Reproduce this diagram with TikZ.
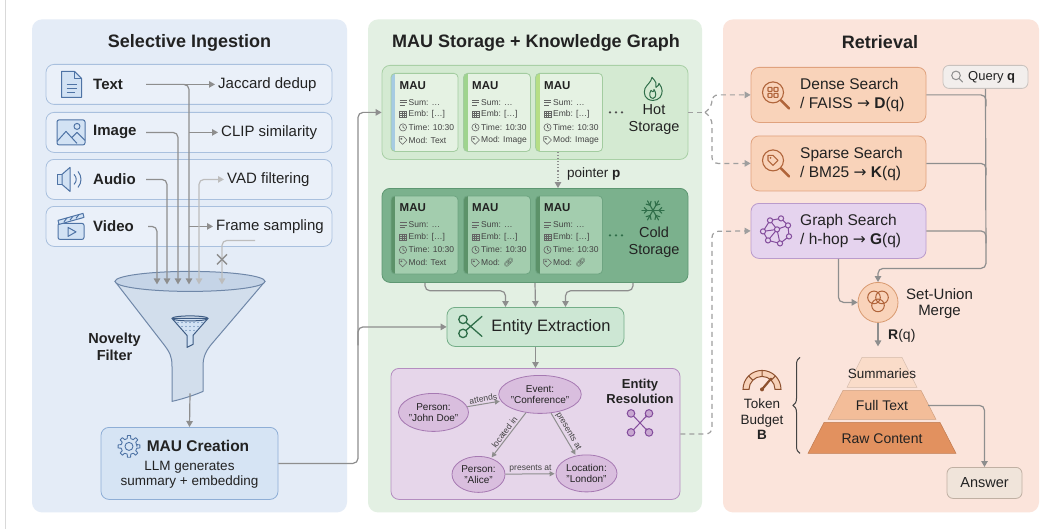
\documentclass[tikz,border=0pt]{standalone}
\usepackage{fontspec}
\setmainfont{Liberation Sans}
\newfontfamily\dejavu{DejaVu Sans}
\newfontfamily\emoj{Noto Emoji}
\usetikzlibrary{arrows.meta,shapes.geometric,calc,decorations.pathreplacing}
\definecolor{txt}{HTML}{222222}
\definecolor{bluepanel}{HTML}{E4ECF7}
\definecolor{rowfill}{HTML}{EAF0F9}
\definecolor{rowline}{HTML}{A9C0DE}
\definecolor{iconblue}{HTML}{4E73A5}
\definecolor{iconbluefill}{HTML}{D2E2F4}
\definecolor{lgray}{HTML}{8E8E8E}
\definecolor{llgray}{HTML}{BDBDBD}
\definecolor{funfill}{HTML}{D2DEEC}
\definecolor{funtop}{HTML}{C5D4E7}
\definecolor{funline}{HTML}{6F87A8}
\definecolor{maufill}{HTML}{D6E4F4}
\definecolor{mauline}{HTML}{8EAED6}
\definecolor{greenpanel}{HTML}{E3F0E3}
\definecolor{hotfill}{HTML}{D4EAD2}
\definecolor{hotline}{HTML}{A9D0A6}
\definecolor{hotcard}{HTML}{E5F2E3}
\definecolor{hotcardline}{HTML}{A3CCA0}
\definecolor{stripeblue}{HTML}{A6CBE2}
\definecolor{stripegreen}{HTML}{9FD48E}
\definecolor{stripelime}{HTML}{B6DE86}
\definecolor{coldfill}{HTML}{7BB18D}
\definecolor{coldline}{HTML}{5E9772}
\definecolor{coldcard}{HTML}{A3CDAE}
\definecolor{coldcardline}{HTML}{6EA481}
\definecolor{coldstripe}{HTML}{5C9269}
\definecolor{greenicon}{HTML}{2F6E49}
\definecolor{eefill}{HTML}{CDE7D4}
\definecolor{eeline}{HTML}{74AE88}
\definecolor{erfill}{HTML}{E6D6EA}
\definecolor{erline}{HTML}{B48DC0}
\definecolor{elfill}{HTML}{D9BEDE}
\definecolor{elline}{HTML}{A679B2}
\definecolor{purpleicon}{HTML}{834C9C}
\definecolor{salmonpanel}{HTML}{FBE4DB}
\definecolor{orfill}{HTML}{F9D3BA}
\definecolor{orline}{HTML}{E0A27E}
\definecolor{oricon}{HTML}{B0643A}
\definecolor{gsfill}{HTML}{E5D3EE}
\definecolor{gsline}{HTML}{BA9BCC}
\definecolor{qfill}{HTML}{F2EEEC}
\definecolor{qline}{HTML}{C9C2BE}
\definecolor{pyra}{HTML}{FADCC9}
\definecolor{pyrb}{HTML}{F3BD99}
\definecolor{pyrc}{HTML}{E2915F}
\definecolor{pyrline}{HTML}{D99A70}
\definecolor{ansfill}{HTML}{F0E4DA}
\definecolor{ansline}{HTML}{C0B0A3}

\tikzset{
 ptitle/.style={font=\fontsize{18}{20}\selectfont\bfseries, text=txt, inner sep=0pt},
 rowbox/.style={draw=rowline, fill=rowfill, rounded corners=8pt, minimum width=286pt, minimum height=40pt, line width=0.8pt},
 rowlab/.style={font=\fontsize{15}{17}\selectfont\bfseries, text=txt, inner sep=0pt, anchor=west},
 filt/.style={font=\fontsize{15}{17}\selectfont, text=txt, inner sep=3pt, anchor=west},
 tip/.style={-{Triangle[length=6pt,width=6.5pt]}},
 conn/.style={draw=lgray, line width=1.2pt, rounded corners=5pt, tip},
 connlight/.style={draw=llgray, line width=1.2pt, rounded corners=5pt, -{Triangle[length=6pt,width=6.5pt]}},
 plainconn/.style={draw=lgray, line width=1.2pt, rounded corners=5pt},
 dconn/.style={draw=lgray!85, line width=1.2pt, rounded corners=6pt, dash pattern=on 5pt off 4pt},
 gconn/.style={draw=lgray, line width=1pt, -{Triangle[length=5pt,width=5pt]}, shorten >=1pt},
 cardbox/.style={rounded corners=4pt, minimum width=67pt, minimum height=78pt, inner sep=0pt, line width=0.8pt},
 mautitle/.style={font=\fontsize{11.5}{13}\selectfont\bfseries, text=txt, inner sep=0pt, anchor=west},
 cardtxt/.style={font=\fontsize{8.5}{10}\selectfont, text=txt!85, inner sep=0pt, anchor=west},
 cic/.style={draw=txt!70, line width=0.6pt},
 sbox/.style={rounded corners=8pt, minimum width=306pt, minimum height=94pt, line width=0.8pt},
 ellnode/.style={ellipse, draw=elline, fill=elfill, line width=0.8pt, inner sep=0pt, font=\fontsize{10}{11.5}\selectfont, align=center, text=txt},
 elab/.style={font=\fontsize{8.5}{9}\selectfont, text=txt!85, inner sep=1.5pt},
 rbox/.style={rounded corners=8pt, minimum width=175pt, minimum height=55pt, line width=0.8pt},
 rtxt/.style={font=\fontsize{15.5}{19}\selectfont, text=txt, inner sep=0pt, anchor=west, align=left},
 mid/.style={font=\fontsize{13.5}{15.5}\selectfont, text=txt, inner sep=0pt, align=center},
}

\newcommand{\icLines}[2]{\begin{scope}[shift={(#1,#2)}]\draw[cic] (-3.5,-2.5)--(3.5,-2.5) (-3.5,0)--(3.5,0) (-3.5,2.5)--(1.5,2.5);\end{scope}}
\newcommand{\icGrid}[2]{\begin{scope}[shift={(#1,#2)}]\draw[cic] (-3.5,-3) rectangle (3.5,3) (-3.5,-1)--(3.5,-1) (-3.5,1)--(3.5,1) (-1.2,-3)--(-1.2,3) (1.2,-3)--(1.2,3);\end{scope}}
\newcommand{\icClock}[2]{\begin{scope}[shift={(#1,#2)}]\draw[cic] (0,0) circle (3.6) (0,-2.3)--(0,0)--(1.8,1);\end{scope}}
\newcommand{\icTag}[2]{\begin{scope}[shift={(#1,#2)}]\draw[cic, line join=round] (-3.8,-3.8)--(0.6,-3.8)--(4,-0.4)--(-0.4,4)--(-3.8,0.6)--cycle (-1.6,-1.6) circle (0.7);\end{scope}}

\newcommand{\maucard}[7]{%
 \begin{scope}
 \clip[rounded corners=4pt] (#2-33.5,#3-39) rectangle (#2+33.5,#3+39);
 \fill[#4] (#2-33.5,#3-39) rectangle (#2+33.5,#3+39);
 \fill[#5] (#2-33.5,#3-39) rectangle (#2-29.5,#3+39);
 \end{scope}
 \node[cardbox, draw=#6] (#1) at (#2,#3) {};
 \node[mautitle] at (#2-25,#3-27) {MAU};
 \icLines{#2-21.5}{#3-10}
 \node[cardtxt] at (#2-16,#3-10) {Sum: \ldots};
 \icGrid{#2-21.5}{#3+2}
 \node[cardtxt] at (#2-16,#3+2) {Emb: [\ldots]};
 \icClock{#2-21.5}{#3+15}
 \node[cardtxt] at (#2-16,#3+15) {Time: 10:30};
 \icTag{#2-21.5}{#3+28}
 \node[cardtxt] at (#2-16,#3+28) {#7};
}

\begin{document}
\begin{tikzpicture}[x=1pt,y=-1pt]
\path[fill=white] (0,0) rectangle (1052,529);
\draw[black!15, line width=0.8pt] (5,0) -- (5,529);

% ---------- panels
\fill[bluepanel, rounded corners=10pt] (32,19) rectangle (347,512);
\fill[greenpanel, rounded corners=10pt] (368,19) rectangle (702,512);
\fill[salmonpanel, rounded corners=10pt] (723,19) rectangle (1039,512);
\node[ptitle] (t1) at (189.5,42) {Selective Ingestion};
\node[ptitle] (t2) at (536,42) {MAU Storage + Knowledge Graph};
\node[ptitle] (t3) at (880,42) {Retrieval};

% ---------- left: rows
\node[rowbox] (rtext) at (189,84) {};
\node[rowbox] (rimage) at (189,132) {};
\node[rowbox] (raudio) at (189,179) {};
\node[rowbox] (rvideo) at (189,226) {};
\node[rowlab] (ltext) at (93,84) {Text};
\node[rowlab] (limage) at (93,132) {Image};
\node[rowlab] (laudio) at (93,179) {Audio};
\node[rowlab] (lvideo) at (93,226) {Video};
\node[filt] (fjac) at (215,84) {Jaccard dedup};
\node[filt] (fclip) at (218,132) {CLIP similarity};
\node[filt] (fvad) at (224,179) {VAD filtering};
\node[filt] (fframe) at (213,226) {Frame sampling};

% row icons
\begin{scope}[shift={(71.5,84)}, draw=iconblue, line width=1pt, line join=round]
 \filldraw[fill=iconbluefill] (-10,-13)--(3,-13)--(10,-6)--(10,13)--(-10,13)--cycle;
 \draw (3,-13)--(3,-6)--(10,-6);
 \draw (-5,0)--(5,0) (-5,4)--(5,4) (-5,8)--(3,8);
\end{scope}
\begin{scope}[shift={(71,132)}, draw=iconblue, line width=1pt, line join=round]
 \filldraw[fill=iconbluefill, rounded corners=2pt] (-14,-12.5) rectangle (14,12.5);
 \draw (-14,9)--(-5,-1)--(6,11) (1,5)--(6,0)--(14,8);
 \draw (6,-6) circle (3);
\end{scope}
\begin{scope}[shift={(70,179)}, draw=iconblue, line width=1pt, line join=round]
 \filldraw[fill=iconbluefill] (-13,-5) rectangle (-8,5);
 \filldraw[fill=iconbluefill] (-8,-5)--(0,-12)--(0,12)--(-8,5)--cycle;
 \draw (4,-5) .. controls (7,-2) and (7,2) .. (4,5);
 \draw (8,-8) .. controls (12,-3) and (12,3) .. (8,8);
\end{scope}
\begin{scope}[shift={(71,226)}, draw=iconblue, line width=1pt, line join=round]
 \filldraw[fill=iconbluefill, rounded corners=2pt] (-13,-3) rectangle (13,13);
 \filldraw[fill=iconbluefill] (-13,-6)--(12,-13)--(13,-9)--(-12,-2)--cycle;
 \draw (-7,-4.5)--(-4,-8.5) (-1,-6.2)--(2,-10.2) (5,-8)--(8,-12);
 \draw (-3,1)--(-3,10)--(5,5.5)--cycle;
\end{scope}

% ---------- funnel
\filldraw[fill=funfill, draw=funline, line width=1pt, line join=round]
 (115,281) -- (163,343) .. controls (170,352) and (172,356) .. (172,366) -- (172,401)
 .. controls (185,398) and (196,394) .. (203,391) -- (203,366)
 .. controls (203,356) and (206,350) .. (213,342) -- (265,281) -- cycle;
\filldraw[fill=funtop, draw=funline, line width=1pt] (190,281) ellipse [x radius=75, y radius=10];
\begin{scope}[shift={(190,331)}, draw=iconblue!80!black, line width=1pt, line join=round]
 \filldraw[fill=iconbluefill] (-18,-13) -- (18,-13) -- (3,4) -- (3,13) -- (-3,16) -- (-3,4) -- cycle;
 \draw (0,-13) ellipse [x radius=18, y radius=2.5];
 \foreach \i in {-12,-8,...,12} \fill[iconblue] (\i,-9) circle (0.6);
 \foreach \i in {-8,-4,...,8} \fill[iconblue] (\i,-5) circle (0.6);
 \foreach \i in {-4,0,4} \fill[iconblue] (\i,-1) circle (0.6);
\end{scope}
\node[font=\fontsize{14.5}{17}\selectfont\bfseries, text=txt, align=center, inner sep=0pt] (nov) at (114.5,346) {Novelty\\Filter};

% ---------- ingestion connectors
\coordinate (st1) at (146,84);
\coordinate (st2) at (146,132);
\coordinate (st3) at (146,179);
\coordinate (st4) at (148,226);
\draw[conn] (st1) -- (fjac.west);
\draw[conn] (st1) -| (189,284);
\draw[conn] (st2) -| (178,284);
\draw[conn] (st3) -| (167,284);
\draw[conn] (st4) -| (157,284);
\draw[conn] (189,132) -- (fclip.west);
\draw[conn] (189,226) -- (fframe.west);
\draw[connlight, {Triangle[length=6pt,width=6.5pt]}-{Triangle[length=6pt,width=6.5pt]}] (fvad.west) -| (199,284);
\coordinate (rej) at (255,240);
\draw[connlight] (rej) -| (222,284);
\draw[lgray, line width=1.4pt] (217,254)--(227,264) (217,264)--(227,254);

% ---------- MAU creation
\node[draw=mauline, fill=maufill, rounded corners=8pt, minimum width=177pt, minimum height=72pt, line width=0.8pt] (mau) at (189.5,463) {};
\draw[conn] (190,393) -- (mau.north);
\begin{scope}[shift={(129,446)}, draw=iconblue, line width=0.9pt, line join=round]
 \draw (0:8) \foreach \a in {0,45,...,315} { -- (\a-13:8) -- (\a-8:11) -- (\a+8:11) -- (\a+13:8) } -- cycle;
 \draw (0,0) circle (4);
\end{scope}
\node[font=\fontsize{15.5}{18}\selectfont\bfseries, text=txt, inner sep=0pt] (mautit) at (198,446) {MAU Creation};
\node[mid] (mausub) at (189.5,474.5) {LLM generates\\summary + embedding};

% ---------- middle: hot storage
\node[sbox, draw=hotline, fill=hotfill] (hot) at (535,112) {};
\maucard{hc1}{424.5}{112}{hotcard}{stripeblue}{hotcardline}{Mod: Text}
\maucard{hc2}{497}{112}{hotcard}{stripegreen}{hotcardline}{Mod: Image}
\maucard{hc3}{569}{112}{hotcard}{stripelime}{hotcardline}{Mod: Image}
\fill[txt!80] (610,112) circle (1.3) (616,112) circle (1.3) (622,112) circle (1.3);
\node[font=\fontsize{14.5}{16.5}\selectfont, text=txt, align=center, inner sep=0pt] (hotlab) at (654,119) {Hot\\Storage};
\begin{scope}[shift={(653,89)}, draw=greenicon, line width=1pt, line join=round]
 \draw (0,11) .. controls (-8,11) and (-10,4) .. (-8,-1) .. controls (-6,-5) and (-2,-7) .. (-1,-12)
  .. controls (3,-8) and (4,-5) .. (3,-2) .. controls (5,-3) and (6,-5) .. (6,-6)
  .. controls (10,-1) and (10,4) .. (7,8) .. controls (5,10) and (3,11) .. (0,11) -- cycle;
 \draw (0,9) .. controls (-4,9) and (-4,4) .. (-2,1) .. controls (-1,3) and (1,3) .. (1,0) .. controls (3,3) and (4,8) .. (0,9);
\end{scope}

% ---------- cold storage
\node[sbox, draw=coldline, fill=coldfill] (cold) at (535,235) {};
\maucard{cc1}{424.5}{234.5}{coldcard}{coldstripe}{coldcardline}{Mod: Text}
\maucard{cc2}{497}{234.5}{coldcard}{coldstripe}{coldcardline}{Mod: {\emoj 🔗}}
\maucard{cc3}{569}{234.5}{coldcard}{coldstripe}{coldcardline}{Mod: {\emoj 🔗}}
\fill[greenicon] (610,235) circle (1.3) (616,235) circle (1.3) (622,235) circle (1.3);
\node[font=\fontsize{14.5}{16.5}\selectfont, text=txt, align=center, inner sep=0pt] (coldlab) at (654,242) {Cold\\Storage};
\begin{scope}[shift={(653,210)}, draw=greenicon, line width=1.1pt, line cap=round]
 \foreach \a in {0,60,...,300} {
  \draw (0,0) -- (\a:11);
  \draw (\a:6) -- ($(\a:6)+(\a+45:4)$);
  \draw (\a:6) -- ($(\a:6)+(\a-45:4)$);
 }
\end{scope}

% pointer p
\draw[lgray, line width=1.1pt, dotted, -{Triangle[length=6pt,width=6.5pt]}] ([xshift=-11pt]hc3.south) -- ([xshift=23pt]cold.north);
\node[font=\fontsize{13.5}{15}\selectfont, text=txt, inner sep=0pt, anchor=west] (ptr) at (567,174) {pointer \textbf{p}};

% ---------- entity extraction
\node[draw=eeline, fill=eefill, rounded corners=8pt, minimum width=177pt, minimum height=39pt, line width=0.8pt] (ee) at (535.5,326.5) {};
\node[font=\fontsize{16.5}{18}\selectfont, text=txt, inner sep=0pt] (eelab) at (551,326.5) {Entity Extraction};
\begin{scope}[shift={(470,326)}, draw=greenicon, line width=1.3pt, line cap=round]
 \draw (-7,-7) circle (4.2) (-7,7) circle (4.2);
 \draw (-4,-4) -- (12,10) (-4,4) -- (12,-10);
\end{scope}
\draw[conn] ([xshift=-110pt]cold.south) -- ++(0,8) -| ([xshift=-30pt]ee.north);
\draw[conn] (cold.south) -- (ee.north);
\draw[conn] ([xshift=98pt]cold.south) -- ++(0,8) -| ([xshift=30pt]ee.north);

% MAU creation connectors
\draw[conn] (mau.east) -| (358,112) -- (hot.west);
\draw[conn] (358,345) |- (ee.west);

% ---------- entity resolution
\node[draw=erline, fill=erfill, rounded corners=8pt, minimum width=289pt, minimum height=131pt, line width=0.8pt] (er) at (535.5,433.5) {};
\draw[conn] (ee.south) -- (er.north);
\node[ellnode, minimum width=63pt, minimum height=38pt] (jd) at (433.5,412) {Person:\\"John Doe"};
\node[ellnode, minimum width=74pt, minimum height=38pt] (conf) at (540,394) {Event:\\"Conference"};
\node[ellnode, minimum width=53pt, minimum height=36pt] (alice) at (478.5,474) {Person:\\"Alice"};
\node[ellnode, minimum width=61pt, minimum height=37pt] (london) at (586.5,473) {Location:\\"London"};
\draw[gconn] (jd) -- (conf) node[midway, sloped, above, elab] {attends};
\draw[gconn] (conf) -- (alice) node[midway, sloped, above, elab] {located in};
\draw[gconn] (conf) -- (london) node[midway, sloped, above, elab] {presents at};
\draw[gconn] (alice) -- (london) node[midway, above, elab] {presents at};
\node[font=\fontsize{13}{15}\selectfont\bfseries, text=txt, align=center, inner sep=0pt] (erlab) at (640,390.5) {Entity\\Resolution};
\begin{scope}[draw=purpleicon, line width=1pt]
 \draw[-{Triangle[length=3pt,width=3pt]}] (632,414) -- (648,431);
 \draw[-{Triangle[length=3pt,width=3pt]}] (632,431) -- (648,414);
 \filldraw[fill=elfill!80!purpleicon] (631,413) circle (3.8) (649,413) circle (3.8) (631,432) circle (3.8) (649,432) circle (3.8);
\end{scope}

% ---------- right: search boxes
\node[rbox, draw=orline, fill=orfill] (ds) at (838.5,94.5) {};
\node[rbox, draw=orline, fill=orfill] (ss) at (838.5,163) {};
\node[rbox, draw=gsline, fill=gsfill] (gs) at (838.5,230.5) {};
\node[rtxt] (dstxt) at (800,95) {Dense Search\\/ FAISS {\dejavu →} \textbf{D}(q)};
\node[rtxt] (sstxt) at (800,163.5) {Sparse Search\\/ BM25 {\dejavu →} \textbf{K}(q)};
\node[rtxt] (gstxt) at (800,231) {Graph Search\\/ h-hop {\dejavu →} \textbf{G}(q)};
% dense icon
\begin{scope}[shift={(773,92)}, draw=oricon, line width=1.1pt]
 \draw (0,0) circle (10.5);
 \draw[line width=2.6pt, line cap=round] (8,8) -- (16,16);
 \draw[rounded corners=0.6pt] (-5,-5) rectangle (-1,-1) (1,-5) rectangle (5,-1) (-5,1) rectangle (-1,5) (1,1) rectangle (5,5);
\end{scope}
% sparse icon
\begin{scope}[shift={(773,160)}, draw=oricon, line width=1.1pt, line join=round]
 \draw (0,0) circle (10.5);
 \draw[line width=2.6pt, line cap=round] (8,8) -- (16,16);
 \draw (-5,-5) -- (0,-5) -- (5,0) -- (0,5) -- (-5,0) -- cycle;
 \fill[oricon] (-2.5,-2.5) circle (1);
\end{scope}
% graph icon
\begin{scope}[shift={(776,231)}, draw=purpleicon, line width=1pt]
 \draw (-13,0)--(-6,-11)--(5,-13)--(12,-6)--(1,-2)--(-13,0)--(-8,9)--(4,12)--(13,5)--(12,-6);
 \draw (1,-2)--(-6,-11) (1,-2)--(4,12) (1,-2)--(-8,9);
 \foreach \p in {(-13,0),(-6,-11),(5,-13),(12,-6),(1,-2),(-8,9),(4,12),(13,5)}
  \filldraw[fill=gsfill] \p circle (2.6);
\end{scope}
% query
\node[draw=qline, fill=qfill, rounded corners=6pt, minimum width=85pt, minimum height=23pt, line width=0.8pt] (qq) at (985.5,76.5) {};
\node[font=\fontsize{13}{15}\selectfont, text=txt, inner sep=0pt, anchor=west] (qtxt) at (968,76.5) {Query \textbf{q}};
\begin{scope}[shift={(957,76)}, draw=lgray, line width=1pt]
 \draw (-1,-1) circle (4.3);
 \draw[line cap=round] (2.2,2.2) -- (5.5,5.5);
\end{scope}

% merge
\node[circle, draw=pyrline, fill=orfill, minimum size=40pt, inner sep=0pt, line width=0.8pt] (merge) at (878,302) {};
\begin{scope}[draw=oricon, line width=1pt]
 \draw (874,297) circle (6.3) (882,297) circle (6.3) (878,305) circle (6.3);
\end{scope}
\node[font=\fontsize{15}{16.5}\selectfont, text=txt, align=center, inner sep=0pt] (mergelab) at (939.5,303) {Set-Union\\Merge};

% retrieval connectors
\draw[plainconn] (ds.east) -| (986,106);
\draw[plainconn] (ss.east) -| (986,175);
\draw[plainconn] (gs.east) -| (986,243);
\draw[conn] (qq.south) -- (986,268) -| (merge.north);
\draw[conn] (gs.south) |- (merge.west);
\coordinate (rqend) at (878,346);
\draw[conn] (merge.south) -- (rqend);
\node[font=\fontsize{14}{16}\selectfont, text=txt, inner sep=0pt, anchor=west] (rq) at (888,335) {\textbf{R}(q)};

% dashed connectors from storage
\draw[dconn] (hot.east) -- (705,112);
\draw[dconn, tip] (705,112) -- (712,106) |- (ds.west);
\draw[dconn, tip] (705,112) -- (712,118) |- (ss.west);
\draw[dconn, tip] (er.east) -| (712,231) -- (gs.west);

% pyramid
\filldraw[fill=pyra, draw=pyra!85!black, line width=0.5pt] (862,357) -- (902,357) -- (917,387) -- (847,387) -- cycle;
\filldraw[fill=pyrb, draw=pyrb!85!black, line width=0.5pt] (843,390) -- (921,390) -- (936,419) -- (828,419) -- cycle;
\filldraw[fill=pyrc, draw=pyrc!85!black, line width=0.5pt] (824,422) -- (940,422) -- (956,453) -- (808,453) -- cycle;
\node[font=\fontsize{13.5}{15}\selectfont, text=txt, inner sep=0pt] (psum) at (882,373) {Summaries};
\node[font=\fontsize{14}{15}\selectfont, text=txt, inner sep=0pt] (pfull) at (882,405) {Full Text};
\node[font=\fontsize{14}{15}\selectfont, text=txt, inner sep=0pt] (praw) at (882,438) {Raw Content};
\coordinate (ftr) at (928,405);
\node[draw=ansline, fill=ansfill, rounded corners=6pt, minimum width=75pt, minimum height=31pt, line width=0.8pt, font=\fontsize{14.5}{16}\selectfont, text=txt] (ans) at (984.5,482.5) {Answer};
\draw[conn] (ftr) -| (ans.north);

% brace and token budget
\draw[decorate, decoration={brace, amplitude=7pt}, line width=1pt, draw=txt!85] (800,453) -- (800,357);
\begin{scope}[shift={(762,389)}]
 \filldraw[fill=pyrb!70, draw=oricon!80!black, line width=1pt] (180:19) arc[start angle=180, end angle=360, radius=19] -- (0:13) arc[start angle=360, end angle=180, radius=13] -- cycle;
 \draw[oricon!80!black, line width=1pt] (225:13) -- (225:19) (270:13) -- (270:19) (315:13) -- (315:19);
 \draw[oricon!80!black, line width=2.2pt, line cap=round] (0,0) -- (310:14);
 \fill[oricon!80!black] (0,0) circle (2);
\end{scope}
\node[font=\fontsize{13.5}{15.5}\selectfont, text=txt, align=center, inner sep=0pt] (tb) at (762,419) {Token\\Budget\\\textbf{B}};
\end{tikzpicture}
\end{document}
